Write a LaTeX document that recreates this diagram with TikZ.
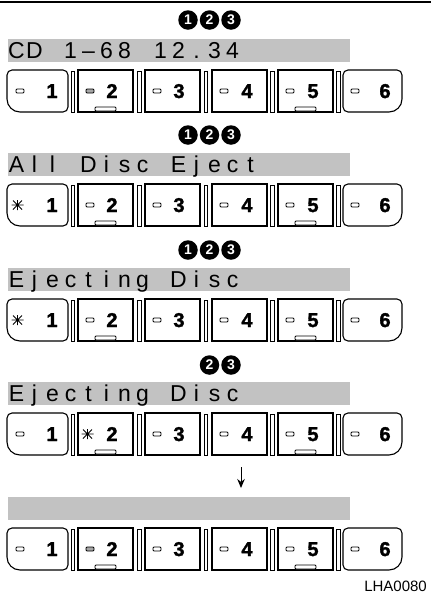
\documentclass[tikz,border=0pt]{standalone}
\usepackage{fontspec}
\setmainfont{Liberation Sans}
\newfontfamily\heavyfont[BoldFeatures={FakeBold=1.6}]{Liberation Sans}
\usetikzlibrary{arrows.meta}
\tikzset{
 btn/.style={draw=black,line width=1.1pt},
 sepbar/.style={draw=black,line width=0.8pt},
 ind/.style={draw=black,line width=0.9pt,rounded corners=1pt,fill=white},
 num/.style={font=\heavyfont\bfseries\fontsize{20}{20}\selectfont,inner sep=0pt,anchor=base},
 lcd/.style={font=\fontsize{23}{23}\selectfont,inner sep=0pt,anchor=base},
 lcdbar/.style={fill=black!24},
 circnum/.style={circle,fill=black,text=white,font=\bfseries\fontsize{14}{14}\selectfont,minimum size=19.5pt,inner sep=0pt},
 burst/.style={draw=black,line width=0.8pt},
}
\newcommand{\btnframe}[2]{%
 \draw[btn] (12,#1) -- (63,#1) .. controls (65.76,#1) and (68,#1+2.24) .. (68,#1+5) -- (68,#1+37) .. controls (68,#1+39.76) and (65.76,#1+42) .. (63,#1+42) -- (20,#1+42) .. controls (12.82,#1+42) and (7,#1+36.18) .. (7,#1+29) -- (7,#1+5) .. controls (7,#1+2.24) and (9.24,#1) .. (12,#1) -- cycle;
 \draw[btn] (348,#1) -- (397,#1) .. controls (399.76,#1) and (402,#1+2.24) .. (402,#1+5) -- (402,#1+29) .. controls (402,#1+36.18) and (396.18,#1+42) .. (389,#1+42) -- (348,#1+42) .. controls (345.24,#1+42) and (343,#1+39.76) .. (343,#1+37) -- (343,#1+5) .. controls (343,#1+2.24) and (345.24,#1) .. (348,#1) -- cycle;
 \foreach \xl in {78,145,212,278} {\draw[btn] (\xl,#1) rectangle (\xl+55,#1+42);}
 \foreach \xs in {73,139.5,206,272.5,338.5} {\draw[sepbar] (\xs-1.75,#1+1) rectangle (\xs+1.75,#1+42);}
 \foreach \xb in {105.5,305.5} {\draw[ind] (\xb-10.5,#1+37) rectangle (\xb+10.5,#1+41);}
 \foreach \xn/\d in {52/1,112/2,179/3,247/4,313/5,385/6} {\node[num] (n#2-\d) at (\xn,#1+28) {\d};}
}
\newcommand{\lind}[3]{\draw[ind,#3] (#1,#2+19) rectangle (#1+8,#2+23);}
\newcommand{\lburst}[2]{\draw[burst] (#1-6,#2+21) -- (#1+6,#2+21) (#1,#2+16) -- (#1,#2+26) (#1-4.5,#2+16.5) -- (#1+4.5,#2+25.5) (#1-4.5,#2+25.5) -- (#1+4.5,#2+16.5);}
\newcommand{\lcdback}[1]{\fill[lcdbar] (8,#1-31) rectangle (350,#1-8);}
\begin{document}
\begin{tikzpicture}[x=1pt,y=-1pt]
\useasboundingbox (0,0) rectangle (431,603);
\coordinate (tl) at (0,2);
\coordinate (tr) at (431,2);
\draw[line width=1.3pt] (tl) -- (tr);

% Row 1
\node[circnum] (c1-1) at (188,20) {1};
\node[circnum] (c1-2) at (209.5,20) {2};
\node[circnum] (c1-3) at (231,20) {3};
\lcdback{70}
\foreach \i/\c in {1/C,2/D,4/1,5/–,6/6,7/8,9/1,10/2,11/.,12/3,13/4}
  {\node[lcd] (t1-\i) at (16.5+18*\i-18,58.5) {\c};}
\btnframe{70}{1}
\lind{16}{70}{}
\lind{86}{70}{fill=black!35}
\foreach \xi in {153,220,286,351} {\lind{\xi}{70}{}}

% Row 2
\node[circnum] (c2-1) at (188,135) {1};
\node[circnum] (c2-2) at (209.5,135) {2};
\node[circnum] (c2-3) at (231,135) {3};
\lcdback{184}
\foreach \i/\c in {1/A,2/l,3/l,5/D,6/i,7/s,8/c,10/E,11/j,12/e,13/c,14/t}
  {\node[lcd] (t2-\i) at (16.5+18*\i-18,172.5) {\c};}
\btnframe{184}{2}
\lburst{17.5}{184}
\foreach \xi in {86,153,220,286,351} {\lind{\xi}{184}{}}

% Row 3
\node[circnum] (c3-1) at (188,250) {1};
\node[circnum] (c3-2) at (209.5,250) {2};
\node[circnum] (c3-3) at (231,250) {3};
\lcdback{299}
\foreach \i/\c in {1/E,2/j,3/e,4/c,5/t,6/i,7/n,8/g,10/D,11/i,12/s,13/c}
  {\node[lcd] (t3-\i) at (16.5+18*\i-18,287.5) {\c};}
\btnframe{299}{3}
\lburst{17.5}{299}
\foreach \xi in {86,153,220,286,351} {\lind{\xi}{299}{}}

% Row 4
\node[circnum] (c4-2) at (209.5,365) {2};
\node[circnum] (c4-3) at (231,365) {3};
\lcdback{413}
\foreach \i/\c in {1/E,2/j,3/e,4/c,5/t,6/i,7/n,8/g,10/D,11/i,12/s,13/c}
  {\node[lcd] (t4-\i) at (16.5+18*\i-18,401.5) {\c};}
\btnframe{413}{4}
\lind{16}{413}{}
\lburst{87.5}{413}
\foreach \xi in {153,220,286,351} {\lind{\xi}{413}{}}

% Arrow
\coordinate (a1) at (241,467);
\coordinate (a2) at (241,488);
\draw[line width=0.9pt,-{Stealth[length=9pt,width=7.5pt]}] (a1) -- (a2);

% Row 5
\lcdback{528}
\btnframe{528}{5}
\lind{16}{528}{}
\lind{86}{528}{fill=black!35}
\foreach \xi in {153,220,286,351} {\lind{\xi}{528}{}}

\node[font=\fontsize{15}{15}\selectfont,anchor=base east,inner sep=0pt] (code) at (427,591) {LHA0080};
\end{tikzpicture}
\end{document}
